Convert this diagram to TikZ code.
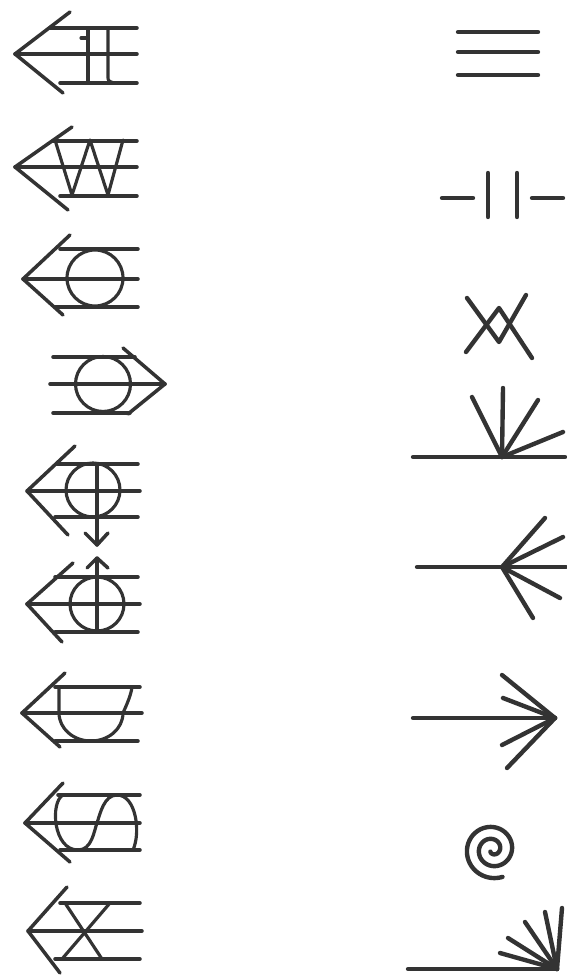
\documentclass[tikz,border=0pt]{standalone}
\usepackage{tikz}
\usetikzlibrary{calc}
\tikzset{
  %% Rails and head of the arrow glyphs
  ink/.style={draw=black!80, line width=2pt,
              line cap=round, line join=round},
  %% Inner figure drawn over the rails
  fig/.style={draw=black!80, line width=1.8pt,
              line cap=round, line join=round},
  %% Heavy stroke of the right column
  heavy/.style={draw=black!80, line width=2.5pt,
                line cap=round, line join=round},
}

\begin{document}
\begin{tikzpicture}[x=0.02cm, y=-0.02cm]
  \useasboundingbox (0,0) rectangle (566,976);

  %% Left column: arrows with three rails
  % 1: bars
  \draw[ink] (70,12) -- (15,54) -- (63,93);
  \draw[ink] (50,28) -- (137,28) (15,54) -- (137,54) (60,83) -- (137,83);
  \draw[fig] (88,28) -- (88,83) (81,38) -- (88,38);
  \draw[fig] (108,28) -- (108,76) .. controls (108,81) .. (114,83);

  % 2: zigzag
  \draw[ink] (72,127) -- (15,167) -- (68,210);
  \draw[ink] (53,141) -- (137,141) (15,167) -- (137,167) (60,196) -- (137,196);
  \draw[fig] (55,140) -- (72,195) -- (90,140) -- (108,195) -- (123,140);

  % 3: circle
  \draw[ink] (70,235) -- (23,279) -- (63,315);
  \draw[ink] (60,249) -- (138,249) (23,279) -- (138,279) (55,307) -- (138,307);
  \draw[fig] (95,278) circle (28);

  % 4: circle, pointing right
  \draw[ink] (123,348) -- (165,384) -- (128,414);
  \draw[ink] (53,357) -- (135,357) (50,384) -- (165,384) (53,413) -- (130,413);
  \draw[fig] (103,384) circle (27.5);

  % 5: circle with arrow down
  \draw[ink] (75,446) -- (27,491) -- (68,535);
  \draw[ink] (57,464) -- (138,464) (27,491) -- (140,491) (55,517) -- (138,517);
  \draw[fig] (93,490) circle (27);
  \draw[fig] (97,464) -- (97,545);
  \draw[ink] (85,533) -- (97,545) -- (108,533);

  % 6: circle with arrow up
  \draw[ink] (73,563) -- (27,604) -- (62,642);
  \draw[ink] (55,577) -- (138,577) (27,604) -- (140,604) (55,632) -- (138,632);
  \draw[fig] (97,604) circle (27);
  \draw[fig] (97,632) -- (97,558);
  \draw[ink] (87,568) -- (97,558) -- (108,568);

  % 7: bowl
  \draw[ink] (65,673) -- (22,713) -- (60,747);
  \draw[ink] (55,687) -- (140,687) (22,713) -- (142,713) (55,741) -- (138,741);
  \draw[fig] (59,687) -- (59,713)
             .. controls (59,728.5) and (73.3,741) .. (91,741)
             .. controls (108.7,741) and (123,728.5) .. (123,713)
             .. controls (127,704) and (131,695) .. (132,687);

  % 8: wave
  \draw[ink] (63,783) -- (25,823) -- (70,862);
  \draw[ink] (58,795) -- (140,795) (25,823) -- (140,823) (60,850) -- (140,850);
  \draw[fig] (63,795) .. controls (50,802) and (53,850) .. (78,850)
             .. controls (92,850) and (94,831) .. (97,823)
             .. controls (100,814) and (104,795) .. (117,795)
             .. controls (136,795) and (141,832) .. (133,850);

  % 9: cross
  \draw[ink] (67,887) -- (28,931) -- (60,973);
  \draw[ink] (60,903) -- (140,903) (28,931) -- (142,931) (55,959) -- (140,959);
  \draw[fig] (65,903) -- (102,959) (110,903) -- (62,959);

  %% Right column
  % parallel lines
  \foreach \y in {32,52,75}
    \draw[heavy] (458,\y) -- (538,\y);

  % gap
  \draw[heavy] (442,198) -- (473,198) (532,198) -- (563,198);
  \draw[heavy] (488,173) -- (488,217) (517,173) -- (517,217);

  % crossed V
  \draw[heavy] (467,298) -- (499,342) -- (526,295);
  \draw[heavy] (466,352) -- (499,308) -- (532,358);

  % fan up
  \draw[heavy] (413,457) -- (565,457);
  \foreach \p in {(503,388),(472,397),(538,400),(563,432)}
    \draw[heavy] (502,457) -- \p;

  % fan both sides
  \draw[heavy] (417,567) -- (566,567);
  \foreach \p in {(545,518),(563,537),(560,598),(533,618)}
    \draw[heavy] (502,567) -- \p;

  % arrow
  \draw[heavy] (413,718) -- (555,718);
  \foreach \p in {(502,675),(503,698),(502,745),(507,768)}
    \draw[heavy] \p -- (555,718);

  % spiral
  \draw[heavy] plot[domain=70:855, samples=220, smooth, variable=\t]
    ({492.5+(31.5-\t/30)*cos(\t)}, {849.5+(31.5-\t/30)*sin(\t)});

  % fan at corner
  \draw[heavy] (408,969) -- (557,969);
  \foreach \p in {(562,908),(545,912),(525,922),(508,938),(500,953)}
    \draw[heavy] (557,969) -- \p;

\end{tikzpicture}
\end{document}
